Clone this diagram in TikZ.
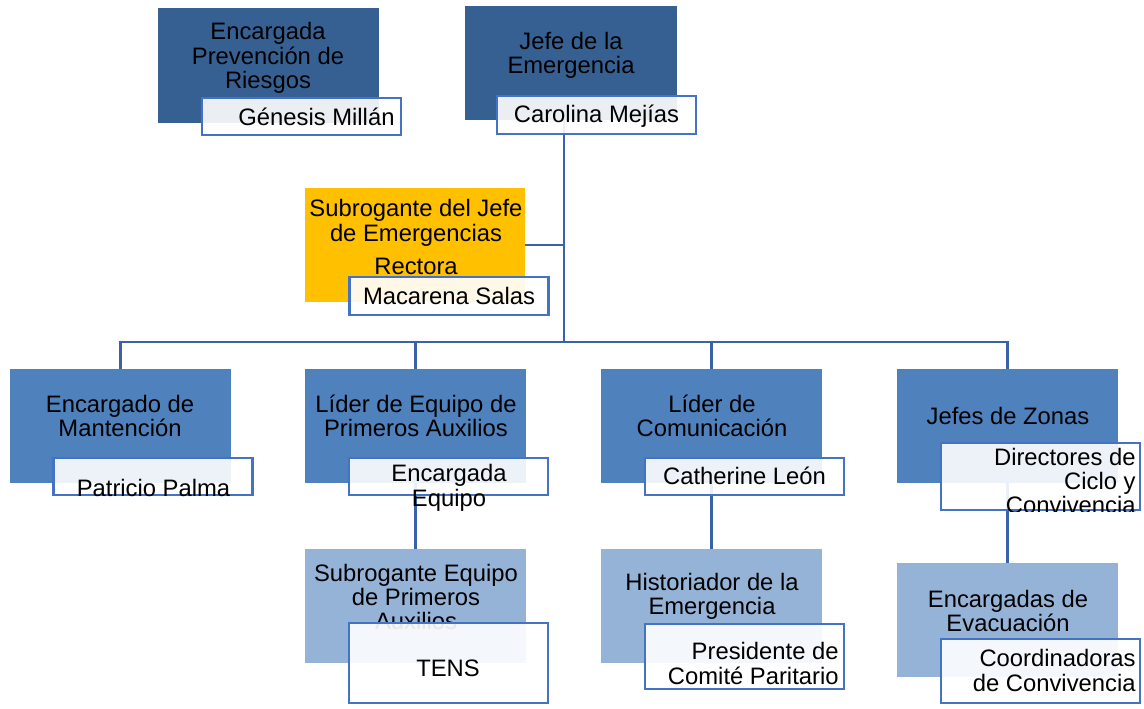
\documentclass[tikz,border=0pt]{standalone}
\usepackage{fontspec}
\setmainfont{Liberation Sans}
\usetikzlibrary{backgrounds}
\definecolor{darkblue}{RGB}{54,96,146}
\definecolor{midblue}{RGB}{79,129,189}
\definecolor{lightblue}{RGB}{149,179,215}
\definecolor{gold}{RGB}{255,192,0}
\definecolor{nameblue}{RGB}{68,114,196}
\definecolor{lineblue}{RGB}{58,98,168}
\tikzset{
  titlebox/.style = {rectangle, inner sep = 0, minimum width = 110.5pt, minimum height = 57pt},
  namebox/.style = {rectangle, draw = nameblue, line width = 1.25pt, fill = white, fill opacity = 0.9,
                    inner sep = 0, minimum width = 99.5pt, minimum height = 18.5pt},
  boxtext/.style = {inner sep = 0, align = center, font = \fontsize{11.9}{12.2}\selectfont},
  link/.style = {-, draw = lineblue, line width = 1.2pt}
}

\begin{document}
\begin{tikzpicture}[x = 0.5pt, y = -0.5pt]
\useasboundingbox (0, 0) rectangle (1144, 708);
% top row
\node [titlebox, fill = darkblue, minimum height = 57.5pt] (prev) at (268.5, 65.5) {};
\node [boxtext] (prevT) at (268, 58) {Encargada\\Prevención de\\Riesgos};
\node [namebox] (genesis) at (301.5, 116.5) {};
\node [boxtext] (genesisT) at (316.5, 117) {Génesis Millán};

\node [titlebox, fill = darkblue, minimum width = 106pt] (jefe) at (571, 63) {};
\node [boxtext] (jefeT) at (571, 55.5) {Jefe de la\\Emergencia};
\node [namebox, minimum height = 19pt] (carolina) at (596.5, 115) {};
\node [boxtext] (carolinaT) at (596.5, 116) {Carolina Mejías};

\node [titlebox, fill = gold, minimum width = 110pt] (subrog) at (415, 245) {};
\node [boxtext] (subrogT) at (416, 237) {Subrogante del Jefe\\de Emergencias\\[4.5pt]Rectora};
\node [namebox, minimum height = 19pt] (macarena) at (449, 296) {};
\node [boxtext] (macarenaT) at (449, 296) {Macarena Salas};

% second row
\node [titlebox, fill = midblue] (mant) at (120.5, 426) {};
\node [boxtext] (mantT) at (120, 416) {Encargado de\\Mantención};
\node [namebox] (patricio) at (153, 476.5) {};
\node [boxtext] (patricioT) at (153.5, 488) {Patricio Palma};

\node [titlebox, fill = midblue] (aux) at (415.5, 426) {};
\node [boxtext] (auxT) at (416, 416) {Líder de Equipo de\\Primeros Auxilios};
\node [namebox] (encargada) at (448.5, 476.5) {};
\node [boxtext] (encargadaT) at (449, 488) {Encargada\\Equipo};

\node [titlebox, fill = midblue] (com) at (711.5, 426) {};
\node [boxtext] (comT) at (712, 416) {Líder de\\Comunicación};
\node [namebox] (catherine) at (744.5, 476.5) {};
\node [boxtext] (catherineT) at (744.5, 476) {Catherine León};

\node [titlebox, fill = midblue] (zonas) at (1007.5, 426) {};
\node [boxtext] (zonasT) at (1008, 416) {Jefes de Zonas};
\node [namebox, minimum height = 33.5pt] (directores) at (1040.5, 476.5) {};
\begin{scope}
\clip (directores.north west) rectangle (directores.south east);
\node [boxtext, align = right, anchor = east] (directoresT) at (1136, 481) {Directores de\\Ciclo y\\Convivencia};
\end{scope}

% third row
\node [titlebox, fill = lightblue] (subaux) at (415.5, 606) {};
\node [boxtext] (subauxT) at (416, 597) {Subrogante Equipo\\de Primeros\\Auxilios};
\node [namebox, minimum height = 40pt] (tens) at (448.5, 663) {};
\node [boxtext] (tensT) at (448, 668) {TENS};

\node [titlebox, fill = lightblue] (hist) at (711.5, 606) {};
\node [boxtext] (histT) at (712, 596.5) {Historiador de la\\Emergencia};
\node [namebox, minimum height = 32.5pt] (presidente) at (744.5, 656.5) {};
\node [boxtext, align = right, anchor = east] (presidenteT) at (839, 663.5) {Presidente de\\Comité Paritario};

\node [titlebox, fill = lightblue] (evac) at (1007.5, 620) {};
\node [boxtext] (evacT) at (1008, 611) {Encargadas de\\Evacuación};
\node [namebox, minimum height = 32pt] (coord) at (1040.5, 671) {};
\node [boxtext, align = right, anchor = east] (coordT) at (1136, 670.5) {Coordinadoras\\de Convivencia};

% connectors
\begin{scope}[on background layer]
\coordinate (hub) at (564, 342);
\draw [link] (jefe.south -| hub) -- (hub);
\draw [link] (subrog.east) -- (subrog.east -| hub);
\draw [link] (mant.north) |- (hub) -| (zonas.north);
\draw [link] (aux.north) -- (aux.north |- hub);
\draw [link] (com.north) -- (com.north |- hub);
\draw [link] (aux) -- (subaux);
\draw [link] (com) -- (hist);
\draw [link] (zonas) -- (evac);
\end{scope}
\end{tikzpicture}
\end{document}
